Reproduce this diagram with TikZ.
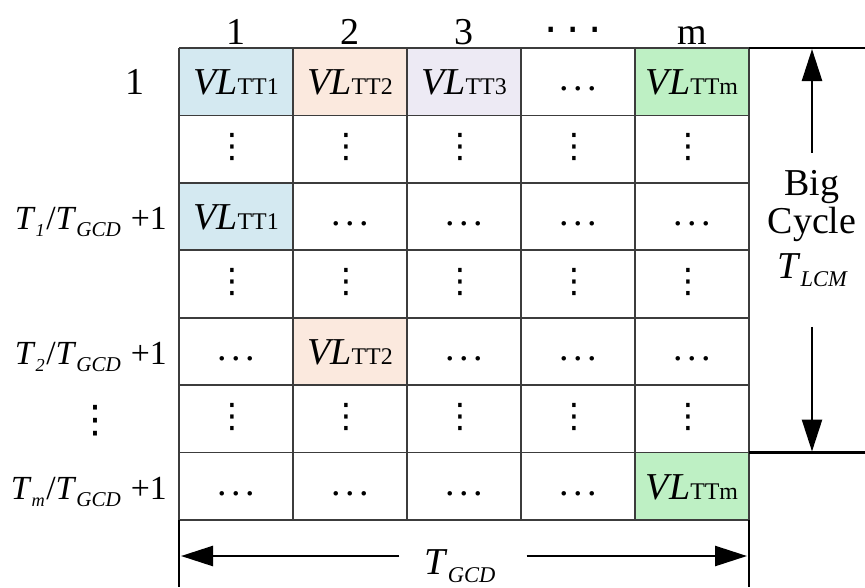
\documentclass[tikz,border=0pt]{standalone}
\usepackage{fontspec}
\setmainfont{Liberation Serif}
\newfontfamily\symfont{DejaVu Sans}
\usetikzlibrary{arrows.meta}

\definecolor{tblue}{RGB}{212,233,241}
\definecolor{tpeach}{RGB}{251,233,222}
\definecolor{tlav}{RGB}{237,234,244}
\definecolor{tgreen}{RGB}{190,240,196}
\definecolor{gridgray}{RGB}{60,60,60}

\newcommand{\vlt}[1]{\textit{VL}{\fontsize{17}{17}\selectfont TT#1}}
\newcommand{\hdt}{.\hspace{0.12em}.\hspace{0.12em}.}
\newcommand{\vdt}{{\symfont\fontsize{24}{24}\selectfont ⋮}}
\newcommand{\lsub}[2]{\raisebox{-0.22em}{\fontsize{#1}{#1}\selectfont\itshape #2}}
\newcommand{\rowlab}[1]{\textit{T}\lsub{13}{#1}\hspace{1pt}/\textit{T}\lsub{15}{GCD}\hspace{7pt}+1}

\tikzset{
  gridline/.style={draw=gridgray, line width=1.2pt},
  dimline/.style={line width=2.1pt},
  dimarrow/.style={line width=1.8pt, -{Triangle[length=0.8cm,width=0.5cm]}},
  celltxt/.style={anchor=base},
  dotcell/.style={anchor=center},
  rowhead/.style={anchor=base east, font=\fontsize{24}{28}\selectfont},
}

\begin{document}
\begin{tikzpicture}[x=0.025cm,y=-0.025cm,font=\fontsize{27}{32}\selectfont,
  every node/.style={inner sep=0pt}]
\useasboundingbox (0,0) rectangle (865,587);

% coloured cells
\fill[tblue] (179,48) rectangle (293,115.4);
\fill[tpeach] (293,48) rectangle (407,115.4);
\fill[tlav] (407,48) rectangle (521,115.4);
\fill[tgreen] (635,48) rectangle (749,115.4);
\fill[tblue] (179,182.9) rectangle (293,250.3);
\fill[tpeach] (293,317.7) rectangle (407,385.1);
\fill[tgreen] (635,452.6) rectangle (749,520);

% table
\foreach \x in {179,293,407,521,635,749}
  \draw[gridline] (\x,48) -- (\x,520);
\foreach \r in {0,...,7}
  \draw[gridline] (179,48+67.43*\r) -- (749,48+67.43*\r);

% column heads
\node[celltxt] (h1) at (236,44) {1};
\node[celltxt] (h2) at (350,44) {2};
\node[celltxt] (h3) at (464,44) {3};
\node[celltxt, font=\symfont\fontsize{30}{30}\selectfont] (h4) at (573,44)
  {·\hspace{6pt}·\hspace{6pt}·};
\node[celltxt] (h5) at (692,44) {m};

% row heads
\node[celltxt] (r1) at (135,94) {1};
\node[rowhead] (r3) at (167,229) {\rowlab{1}};
\node[rowhead] (r5) at (167,364) {\rowlab{2}};
\node[dotcell, font=\symfont\fontsize{27}{27}\selectfont] (r6) at (95,421) {⋮};
\node[rowhead] (r7) at (167,499) {\rowlab{m}};

% row 1
\node[celltxt] (c11) at (236,94) {\vlt1};
\node[celltxt] (c12) at (350,94) {\vlt2};
\node[celltxt] (c13) at (464,94) {\vlt3};
\node[celltxt] (c14) at (578,90) {\hdt};
\node[celltxt] (c15) at (692,94) {\vlt{m}};
% rows of vertical dots
\foreach \y/\n in {147/2,282/4,417/6}
  \foreach \x/\c in {232/1,346/2,460/3,574/4,688/5}
    \node[dotcell] (c\n\c) at (\x,\y) {\vdt};
% row 3
\node[celltxt] (c31) at (236,229) {\vlt1};
\node[celltxt] (c32) at (350,225) {\hdt};
\node[celltxt] (c33) at (464,225) {\hdt};
\node[celltxt] (c34) at (578,225) {\hdt};
\node[celltxt] (c35) at (692,225) {\hdt};
% row 5
\node[celltxt] (c51) at (236,360) {\hdt};
\node[celltxt] (c52) at (350,364) {\vlt2};
\node[celltxt] (c53) at (464,360) {\hdt};
\node[celltxt] (c54) at (578,360) {\hdt};
\node[celltxt] (c55) at (692,360) {\hdt};
% row 7
\node[celltxt] (c71) at (236,495) {\hdt};
\node[celltxt] (c72) at (350,495) {\hdt};
\node[celltxt] (c73) at (464,495) {\hdt};
\node[celltxt] (c74) at (578,495) {\hdt};
\node[celltxt] (c75) at (692,499) {\vlt{m}};

% big cycle
\draw[dimline] (749,48) -- (865,48);
\draw[dimline] (749,452.6) -- (865,452.6);
\coordinate (ctop) at (812,49);
\coordinate (cbot) at (812,451.5);
\node[celltxt] (big) at (812,195) {Big};
\node[celltxt] (cyc) at (812,233) {Cycle};
\node[celltxt] (tlcm) at (812,278) {\textit{T}\lsub{16}{LCM}};
\draw[dimarrow] (big.north) ++(0,-17) -- (ctop);
\draw[dimarrow] (tlcm.south) ++(0,40) -- (cbot);

% period
\draw[dimline] (179,520) -- (179,587);
\draw[dimline] (749,520) -- (749,587);
\coordinate (gl) at (181,556);
\coordinate (gr) at (747,556);
\node[celltxt] (tgcd) at (460,574) {\textit{T}\lsub{16}{GCD}};
\draw[dimarrow] (tgcd.west |- gl) ++(-25,0) -- (gl);
\draw[dimarrow] (tgcd.east |- gr) ++(31,0) -- (gr);
\end{tikzpicture}
\end{document}
